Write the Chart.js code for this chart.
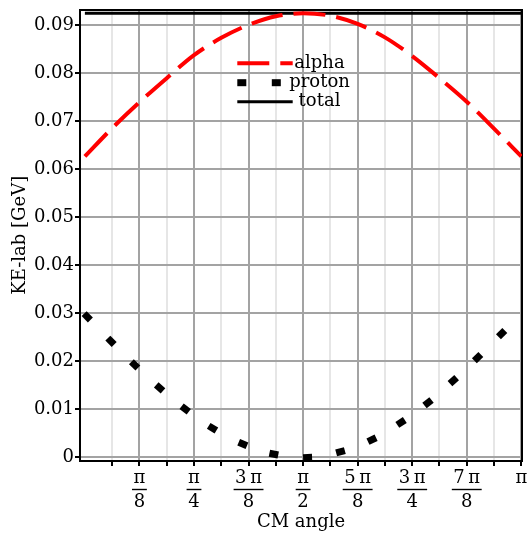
<!DOCTYPE html>
<html><head><meta charset="utf-8">
<script src="https://cdn.jsdelivr.net/npm/chart.js@4.4.1/dist/chart.umd.min.js"></script>
<style>html,body{margin:0;padding:0;background:#fff}#wrap{width:527px;height:536px}</style>
</head><body><div id="wrap"><canvas id="c" width="527" height="536"></canvas></div>
<script>
const PI = Math.PI;
// alpha kinetic energy (GeV) at CM angles k*pi/16
const alphaAngles = [0, PI/16, 2*PI/16, 3*PI/16, 4*PI/16, 5*PI/16, 6*PI/16, 7*PI/16, 8*PI/16,
                     9*PI/16, 10*PI/16, 11*PI/16, 12*PI/16, 13*PI/16, 14*PI/16, 15*PI/16, PI];
const alphaKE = [0.0627, 0.0686, 0.0740, 0.0790, 0.0838, 0.0874, 0.0901, 0.0919, 0.0925,
                 0.0920, 0.0903, 0.0875, 0.0836, 0.0790, 0.0741, 0.0685, 0.0627];
// proton (dotted curve)
const protonAngles = [0.017, 0.188, 0.358, 0.538, 0.722, 0.919, 1.137, 1.360, 1.603,
                      1.840, 2.067, 2.276, 2.470, 2.652, 2.827, 3.000];
const protonKE = [0.0293, 0.0242, 0.0193, 0.0145, 0.0101, 0.0061, 0.0028, 0.0007, 0.0000,
                  0.0012, 0.0037, 0.0073, 0.0114, 0.0160, 0.0208, 0.0258];
// total
const totalAngles = alphaAngles;
const totalKE = [0.0925, 0.0925, 0.0925, 0.0925, 0.0925, 0.0925, 0.0925, 0.0925, 0.0925,
                 0.0925, 0.0925, 0.0925, 0.0925, 0.0925, 0.0925, 0.0925, 0.0925];
// ticks
const xTickValues = [PI/16, 2*PI/16, 3*PI/16, 4*PI/16, 5*PI/16, 6*PI/16, 7*PI/16, 8*PI/16,
                     9*PI/16, 10*PI/16, 11*PI/16, 12*PI/16, 13*PI/16, 14*PI/16, 15*PI/16, PI];
const xTickLabels = ['', ['π','8'], '', ['π','4'], '', ['3\u2009π','8'], '', ['π','2'],
                     '', ['5\u2009π','8'], '', ['3\u2009π','4'], '', ['7\u2009π','8'], '', 'π'];
const yTickValues = [0, 0.005, 0.01, 0.015, 0.02, 0.025, 0.03, 0.035, 0.04, 0.045, 0.05,
                     0.055, 0.06, 0.065, 0.07, 0.075, 0.08, 0.085, 0.09];
const yTickLabels = ['0', '', '0.01', '', '0.02', '', '0.03', '', '0.04', '', '0.05',
                     '', '0.06', '', '0.07', '', '0.08', '', '0.09'];
const seriesNames = ['alpha', 'proton', 'total'];

const FONT = '"DejaVu Serif", serif';
const MAJOR = '#a3a3a3', MINOR = '#e6e6e6';

// proton mark: a short dash of a thick dotted line
const dot = document.createElement('canvas');
dot.width = 9; dot.height = 7;
(function(){ const g = dot.getContext('2d'); g.fillStyle = '#000'; g.fillRect(0,0,9,7); })();

const fracPlugin = {
  id: 'fracBars',
  afterDraw(chart) {
    const s = chart.scales.x, ctx = chart.ctx;
    ctx.save();
    ctx.font = '18px ' + FONT;
    ctx.strokeStyle = '#000';
    ctx.lineWidth = 1.4;
    s.ticks.forEach((t, i) => {
      const lab = xTickLabels[i];
      if (Array.isArray(lab)) {
        const w = Math.max(...lab.map(l => ctx.measureText(l).width)) + 3;
        const x = s.getPixelForValue(t.value);
        const y = s.top + 5 + 24 - 0.5;
        ctx.beginPath(); ctx.moveTo(x - w/2, y); ctx.lineTo(x + w/2, y); ctx.stroke();
      }
    });
    ctx.restore();
  }
};

const legendPlugin = {
  id: 'inLegend',
  afterDraw(chart) {
    const a = chart.chartArea, ctx = chart.ctx;
    const x0 = a.left + 157.3, x1 = a.left + 212.7, tx = a.left + 239.5;
    const rows = [a.top + 53.8, a.top + 73.2, a.top + 92.2];
    ctx.save();
    // alpha
    ctx.strokeStyle = '#ff0000'; ctx.lineWidth = 4; ctx.setLineDash([32, 11]);
    ctx.beginPath(); ctx.moveTo(x0, rows[0]); ctx.lineTo(x1, rows[0]); ctx.stroke();
    ctx.setLineDash([]);
    // proton
    ctx.fillStyle = '#000';
    ctx.fillRect(x0, rows[1] - 3.5, 9, 7);
    ctx.fillRect(x0 + 34.5, rows[1] - 3.5, 9, 7);
    // total
    ctx.strokeStyle = '#000'; ctx.lineWidth = 3;
    ctx.beginPath(); ctx.moveTo(x0, rows[2]); ctx.lineTo(x1, rows[2]); ctx.stroke();
    ctx.font = '18px ' + FONT; ctx.textAlign = 'center'; ctx.textBaseline = 'middle';
    ctx.fillStyle = '#000';
    seriesNames.forEach((n, i) => ctx.fillText(n, tx, rows[i]));
    ctx.restore();
  }
};

const tickFont = { family: FONT, size: 18, lineHeight: 24/18 };

new Chart(document.getElementById('c'), {
  type: 'scatter',
  data: {
    datasets: [
      {
        label: seriesNames[0],
        data: alphaAngles.map((x, i) => ({ x, y: alphaKE[i] })),
        showLine: true, pointRadius: 0, borderColor: '#ff0000', borderWidth: 4,
        borderDash: [32, 11], borderCapStyle: 'butt', cubicInterpolationMode: 'monotone'
      },
      {
        label: seriesNames[1],
        data: protonAngles.map((x, i) => ({ x, y: protonKE[i] })),
        showLine: false, pointStyle: dot, pointRadius: 5, borderWidth: 0,
        backgroundColor: '#000',
        rotation: (c) => {
          if (c.type !== 'data') return 0;
          const i = c.dataIndex, n = protonAngles.length;
          const xs = c.chart.scales.x, ys = c.chart.scales.y;
          const p = Math.max(0, i - 1), q = Math.min(n - 1, i + 1);
          const dx = xs.getPixelForValue(protonAngles[q]) - xs.getPixelForValue(protonAngles[p]);
          const dy = ys.getPixelForValue(protonKE[q]) - ys.getPixelForValue(protonKE[p]);
          return Math.atan2(dy, dx) * 180 / Math.PI;
        }
      },
      {
        label: seriesNames[2],
        data: totalAngles.map((x, i) => ({ x, y: totalKE[i] })),
        showLine: true, pointRadius: 0, borderColor: '#000', borderWidth: 3
      }
    ]
  },
  options: {
    responsive: false, animation: false, devicePixelRatio: 1,
    layout: { padding: 0 },
    plugins: { legend: { display: false }, tooltip: { enabled: false } },
    scales: {
      x: {
        type: 'linear', position: 'bottom', min: -0.0352, max: PI + 0.005,
        afterBuildTicks: s => { s.ticks = xTickValues.map(v => ({ value: v })); },
        afterFit: s => { s.height = 75; s.paddingLeft = 0; s.paddingRight = 0; },
        ticks: {
          callback: (v, i) => xTickLabels[i], font: tickFont, color: '#000',
          padding: 0, maxRotation: 0, minRotation: 0, autoSkip: false
        },
        grid: {
          color: c => (c.index % 2 === 1 ? MAJOR : MINOR), lineWidth: 2,
          tickColor: '#000', tickLength: 5, tickWidth: 2
        },
        border: { color: '#000', width: 2 },
        title: { display: true, text: 'CM angle', color: '#000',
                 font: { family: FONT, size: 18 }, padding: { top: 0, bottom: 3 } }
      },
      y: {
        type: 'linear', position: 'left', min: -0.00073, max: 0.0933,
        afterBuildTicks: s => { s.ticks = yTickValues.map(v => ({ value: v })); },
        afterFit: s => { s.width = 80; s.paddingTop = 0; s.paddingBottom = 0; },
        ticks: { callback: (v, i) => yTickLabels[i], font: tickFont, color: '#000', padding: 1 },
        grid: {
          color: c => (c.index % 2 === 0 ? MAJOR : MINOR), lineWidth: 2,
          tickColor: '#000', tickLength: 5, tickWidth: 2
        },
        border: { color: '#000', width: 2 },
        title: { display: true, text: 'KE-lab [GeV]', color: '#000',
                 font: { family: FONT, size: 18 }, padding: { top: 10, bottom: 0 } }
      },
      x2: {
        type: 'linear', position: 'top', min: -0.0352, max: PI + 0.005, display: true,
        grid: { display: false, drawTicks: false }, ticks: { display: false },
        border: { color: '#000', width: 2 },
        afterFit: s => { s.height = 9.5; s.paddingLeft = 0; s.paddingRight = 0; }
      },
      y2: {
        type: 'linear', position: 'right', min: -0.00073, max: 0.0933, display: true,
        grid: { display: false, drawTicks: false }, ticks: { display: false },
        border: { color: '#000', width: 2 },
        afterFit: s => { s.width = 4.5; s.paddingTop = 0; s.paddingBottom = 0; }
      }
    }
  },
  plugins: [fracPlugin, legendPlugin]
});
</script>
</body></html>
